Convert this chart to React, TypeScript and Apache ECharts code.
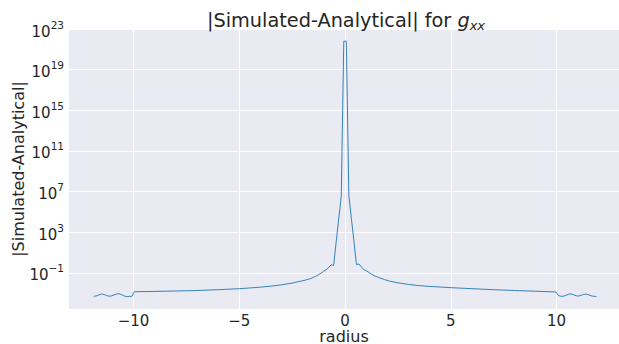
import React, { useEffect, useRef } from "react";
import * as echarts from "echarts";

const radius = [
  -11.88, -11.76, -11.64, -11.52, -11.4, -11.28, -11.16, -11.04, -10.92, -10.8, -10.68, -10.56, -10.44, -10.32, -10.2, -10.08,
  -9.96, -9, -8, -7, -6, -5, -4.5, -4, -3.5, -3, -2.5, -2.13, -1.86, -1.62, -1.5, -1.38, -1.26, -1.14, -1.02, -0.9, -0.78, -0.66, -0.54,
  -0.42, -0.3, -0.18, -0.06, 0.06, 0.18, 0.3, 0.42,
  0.54, 0.66, 0.78, 0.9, 1.02, 1.14, 1.26, 1.38, 1.5, 1.65, 1.86, 2.1, 2.5, 3, 3.5, 4, 5, 6, 7, 8, 9, 9.96,
  10.08, 10.2, 10.32, 10.44, 10.56, 10.68, 10.8, 10.92, 11.04, 11.16, 11.28, 11.4, 11.52, 11.64, 11.76, 11.88,
];

const absDiff = [
  5.0e-4, 5.5e-4, 6.9e-4, 8.3e-4, 7.6e-4, 6.0e-4, 5.1e-4, 5.5e-4, 6.9e-4, 8.5e-4, 8.9e-4, 7.2e-4, 5.4e-4, 4.7e-4, 4.9e-4, 5.0e-4,
  1.41e-3, 1.51e-3, 1.66e-3, 1.86e-3, 2.24e-3, 2.82e-3, 3.31e-3, 3.98e-3, 5.01e-3, 6.76e-3, 1.0e-2, 1.48e-2, 2.0e-2, 2.82e-2, 3.72e-2, 4.68e-2, 6.61e-2, 9.55e-2, 0.145, 0.2, 0.331, 0.63, 0.55,
  112, 2.0e4, 3.5e6, 6.3e21, 6.3e21, 4.0e6, 2.2e4, 126,
  0.66, 0.76, 0.355, 0.209, 0.158, 0.105, 7.2e-2, 5.2e-2, 4.2e-2, 3.16e-2, 2.24e-2, 1.58e-2, 1.05e-2, 7.4e-3, 5.6e-3, 4.7e-3, 3.55e-3, 2.82e-3, 2.24e-3, 1.86e-3, 1.58e-3, 1.35e-3,
  6.3e-4, 5.0e-4, 5.1e-4, 6.3e-4, 7.9e-4, 8.5e-4, 7.2e-4, 5.6e-4, 5.3e-4, 6.3e-4, 7.8e-4, 8.1e-4, 6.9e-4, 5.6e-4, 5.0e-4, 4.8e-4,
];

const xTicks = [-10, -5, 0, 5, 10];
const yTicks = [1e-1, 1e3, 1e7, 1e11, 1e15, 1e19, 1e23];

const TEXT = "#262626";
const FONT = "DejaVu Sans";

function minus(n: number) {
  return n < 0 ? "\u2212" + String(-n) : String(n);
}

export default function App() {
  const ref = useRef<HTMLDivElement>(null);
  useEffect(() => {
    if (!ref.current) return;
    const chart = echarts.init(ref.current, null, { renderer: "svg" });
    const data = radius.map((x, i) => [x, absDiff[i]]);
    chart.setOption({
      animation: false,
      textStyle: { fontFamily: FONT, color: TEXT },
      title: {
        text: "|Simulated-Analytical| for {i|g}{s|xx}",
        left: 341,
        textAlign: "center",
        top: 3,
        textStyle: {
          fontFamily: FONT,
          fontSize: 19.3,
          fontWeight: "normal",
          color: TEXT,
          lineHeight: 24,
          rich: {
            i: { fontFamily: FONT, fontSize: 19.3, fontStyle: "italic", color: TEXT, lineHeight: 24 },
            s: { fontFamily: FONT, fontSize: 13, fontStyle: "italic", color: TEXT, lineHeight: 10, verticalAlign: "bottom" },
          },
        },
      },
      grid: {
        left: 69,
        right: 0,
        top: 29,
        bottom: 35,
        show: true,
        backgroundColor: "#EAEAF2",
        borderWidth: 0,
        containLabel: false,
        outerBoundsMode: "none",
      },
      xAxis: {
        type: "value",
        min: -13.05,
        max: 12.95,
        name: "radius",
        nameLocation: "middle",
        nameGap: 20,
        nameMoveOverlap: false,
        nameTextStyle: { fontFamily: FONT, fontSize: 16, color: TEXT, lineHeight: 14 },
        axisLine: { show: false },
        axisTick: { show: false, customValues: xTicks },
        axisLabel: {
          customValues: xTicks,
          fontFamily: FONT,
          fontSize: 15,
          lineHeight: 14,
          color: TEXT,
          margin: 5,
          formatter: (v: number) => minus(v),
        },
        splitLine: { show: true, lineStyle: { color: "#ffffff", width: 1 } },
      },
      yAxis: {
        type: "log",
        logBase: 10,
        min: 2.82e-5,
        max: 1.0001e23,
        name: "|Simulated-Analytical|",
        nameLocation: "middle",
        nameGap: 43,
        nameMoveOverlap: false,
        nameTextStyle: { fontFamily: FONT, fontSize: 16, color: TEXT },
        axisLine: { show: false },
        axisTick: { show: false, customValues: yTicks },
        axisLabel: {
          customValues: yTicks,
          margin: 5,
          showMaxLabel: true,
          hideOverlap: false,
          formatter: (v: number) => {
            const n = Math.round(Math.log10(v));
            return "{b|10}{s|" + minus(n) + "}";
          },
          rich: {
            b: { fontFamily: FONT, fontSize: 15, color: TEXT, lineHeight: 20, verticalAlign: "bottom" },
            s: { fontFamily: FONT, fontSize: 10.5, color: TEXT, lineHeight: 12, verticalAlign: "top" },
          },
        },
        splitLine: { show: true, lineStyle: { color: "#ffffff", width: 1 } },
      },
      series: [
        {
          type: "line",
          data,
          showSymbol: false,
          symbol: "none",
          lineStyle: { color: "#1f77b4", width: 0.9 },
        },
      ],
    });
    return () => chart.dispose();
  }, []);
  return (
    <div
      ref={ref}
      style={{ position: "absolute", left: 0, top: 0, width: 619, height: 344 }}
    />
  );
}
